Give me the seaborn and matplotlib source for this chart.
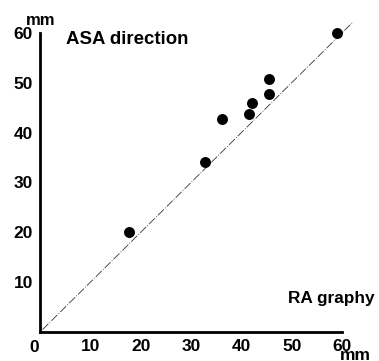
import numpy as np
import pandas as pd
import matplotlib
matplotlib.use("Agg")
import matplotlib.pyplot as plt
import seaborn as sns

# RA graphy vs ASA direction (mm)
ra_graphy = [17.7, 32.7, 36.1, 41.5, 42.2, 45.4, 45.4, 59.0]
asa_direction = [20.1, 34.1, 42.7, 43.8, 46.0, 47.8, 50.8, 59.9]
identity = [0.5, 62.0]
ticks = [10, 20, 30, 40, 50, 60]

df = pd.DataFrame({"ra": ra_graphy, "asa": asa_direction})

sns.set_style("white")
plt.rcParams["font.family"] = ["Liberation Sans", "DejaVu Sans"]
plt.rcParams["font.weight"] = "bold"
plt.rcParams["text.color"] = "black"
plt.rcParams["xtick.color"] = "black"
plt.rcParams["ytick.color"] = "black"

fig = plt.figure(figsize=(3.79, 3.61), dpi=100)
ax = fig.add_axes([0.1055, 0.080, 0.797, 0.829])

# identity line
ax.plot(identity, identity, color="#333333", lw=0.6, ls=(0, (10, 2, 1, 2)), clip_on=False)
sns.scatterplot(data=df, x="ra", y="asa", ax=ax, color="black", s=62,
                edgecolor="black", linewidth=0, clip_on=False, zorder=3)

ax.set_xlim(0, 60)
ax.set_ylim(0, 60)
ax.set_xticks(ticks)
ax.set_yticks(ticks)
ax.tick_params(direction="in", length=4, width=1.5, labelsize=12.5)
ax.tick_params(axis="x", pad=5)
ax.tick_params(axis="y", pad=5)
for s in ["top", "right"]:
    ax.spines[s].set_visible(False)
for s in ["left", "bottom"]:
    ax.spines[s].set_linewidth(2)
    ax.spines[s].set_color("black")
ax.set_xlabel("")
ax.set_ylabel("")

# corner zero and unit labels
ax.text(-0.02, -0.025, "0", transform=ax.transAxes, ha="center", va="top", fontsize=12.5, fontweight="bold")
ax.text(0.003, 1.042, "mm", transform=ax.transAxes, ha="center", va="center", fontsize=12, fontweight="bold")
ax.text(1.045, -0.094, "mm", transform=ax.transAxes, ha="center", va="baseline", fontsize=12.5, fontweight="bold")
ax.text(0.087, 0.977, "ASA direction", transform=ax.transAxes, ha="left", va="center", fontsize=13.4, fontweight="bold")
ax.text(0.82, 0.114, "RA graphy", transform=ax.transAxes, ha="left", va="center", fontsize=12.4, fontweight="bold")

fig.savefig("out.png", dpi=100)
